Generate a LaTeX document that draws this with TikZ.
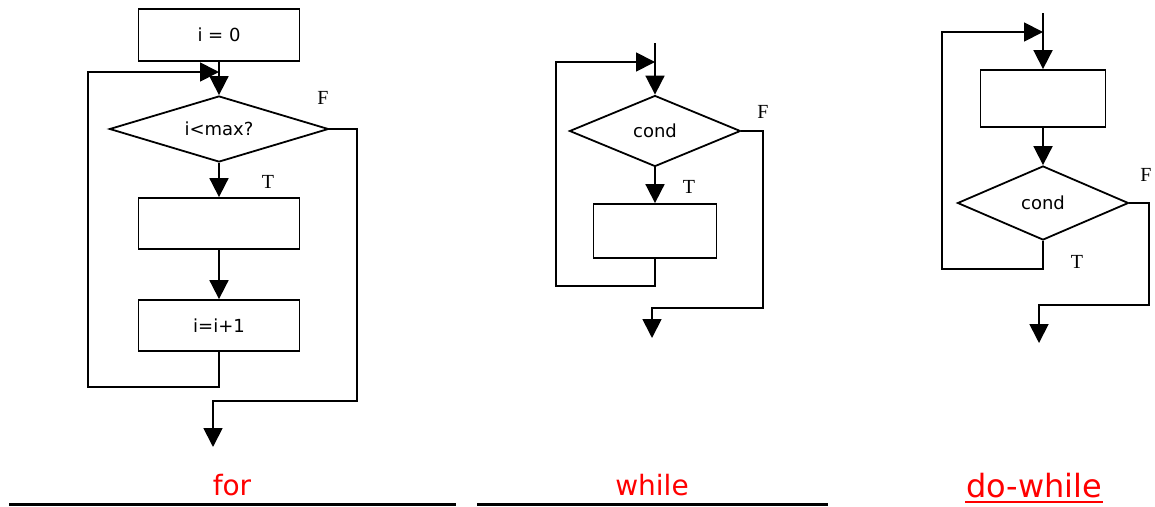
\documentclass[tikz,border=0pt]{standalone}
\usepackage{fontspec}
\usetikzlibrary{arrows.meta,shapes.geometric}
\newfontfamily\boxfont{DejaVu Sans}
\newfontfamily\tffont{Liberation Serif}

\begin{document}
\begin{tikzpicture}[x=1pt,y=-1pt,line width=1.8pt,
    proc/.style={rectangle,draw,inner sep=0pt,font=\boxfont\fontsize{18}{20}\selectfont},
    test/.style={diamond,draw,inner sep=0pt,font=\boxfont\fontsize{18}{20}\selectfont},
    flow/.style={-{Triangle[length=19pt,width=19pt]}},
    tf/.style={font=\tffont\fontsize{20}{22}\selectfont},
    caption/.style={text=red,inner sep=0pt,anchor=base,font=\boxfont\fontsize{28}{32}\selectfont}]
  \useasboundingbox (0,0) rectangle (1155,506);

  % for
  \node[proc,minimum width=161pt,minimum height=52pt] (init) at (219,35) {i = 0};
  \node[test,shape aspect=3.3,minimum width=219pt,minimum height=66pt] (cmp) at (219,129) {i<max?};
  \node[proc,minimum width=161pt,minimum height=51pt] (fbody) at (219,223.5) {};
  \node[proc,minimum width=161pt,minimum height=51pt] (incr) at (219,325.5) {i=i+1};
  \coordinate (fjoin) at (219,72);
  \coordinate (fend) at (213,447);
  \node[tf] (fT) at (268,182) {T};
  \node[tf] (fF) at (323,98) {F};
  \draw[flow] (init) -- (cmp);
  \draw[flow] (cmp) -- (fbody);
  \draw[flow] (fbody) -- (incr);
  \draw[flow] (incr.south) |- (88,387) |- (fjoin);
  \draw[flow] (cmp.east) -| (357,401) -| (fend);

  % while
  \node[test,shape aspect=2.4,minimum width=171pt,minimum height=71pt] (wtest) at (655,131) {cond};
  \node[proc,minimum width=123pt,minimum height=54pt] (wbody) at (655,231) {};
  \coordinate (wtop) at (655,43);
  \coordinate (wjoin) at (655,62);
  \coordinate (wend) at (652,338);
  \node[tf] (wT) at (689,187) {T};
  \node[tf] (wF) at (763,112) {F};
  \draw[flow] (wtop) -- (wtest);
  \draw[flow] (wtest) -- (wbody);
  \draw[flow] (wbody.south) |- (556,286) |- (wjoin);
  \draw[flow] (wtest.east) -| (763,308) -| (wend);

  % do-while
  \node[proc,minimum width=125pt,minimum height=57pt] (dbody) at (1043,98.5) {};
  \node[test,shape aspect=2.3,minimum width=171pt,minimum height=74pt] (dtest) at (1043,203) {cond};
  \coordinate (dtop) at (1043,13);
  \coordinate (djoin) at (1043,32);
  \coordinate (dend) at (1039,343);
  \node[tf] (dT) at (1077,262) {T};
  \node[tf] (dF) at (1146,175) {F};
  \draw[flow] (dtop) -- (dbody);
  \draw[flow] (dbody) -- (dtest);
  \draw[flow] (dtest.south) |- (942,269) |- (djoin);
  \draw[flow] (dtest.east) -| (1149,305) -| (dend);

  % captions
  \node[caption] (forlabel) at (232,495) {for};
  \node[caption] (whilelabel) at (652,495) {while};
  \node[caption,font=\boxfont\fontsize{32}{36}\selectfont] (dolabel) at (1034,497) {do-while};
  \draw[red,line width=2pt] ([yshift=-5pt]dolabel.base west) -- ([yshift=-5pt]dolabel.base east);
  \draw[line width=2.5pt] (9,504.5) -- (456,504.5);
  \draw[line width=2.5pt] (477,504.5) -- (828,504.5);
\end{tikzpicture}
\end{document}
